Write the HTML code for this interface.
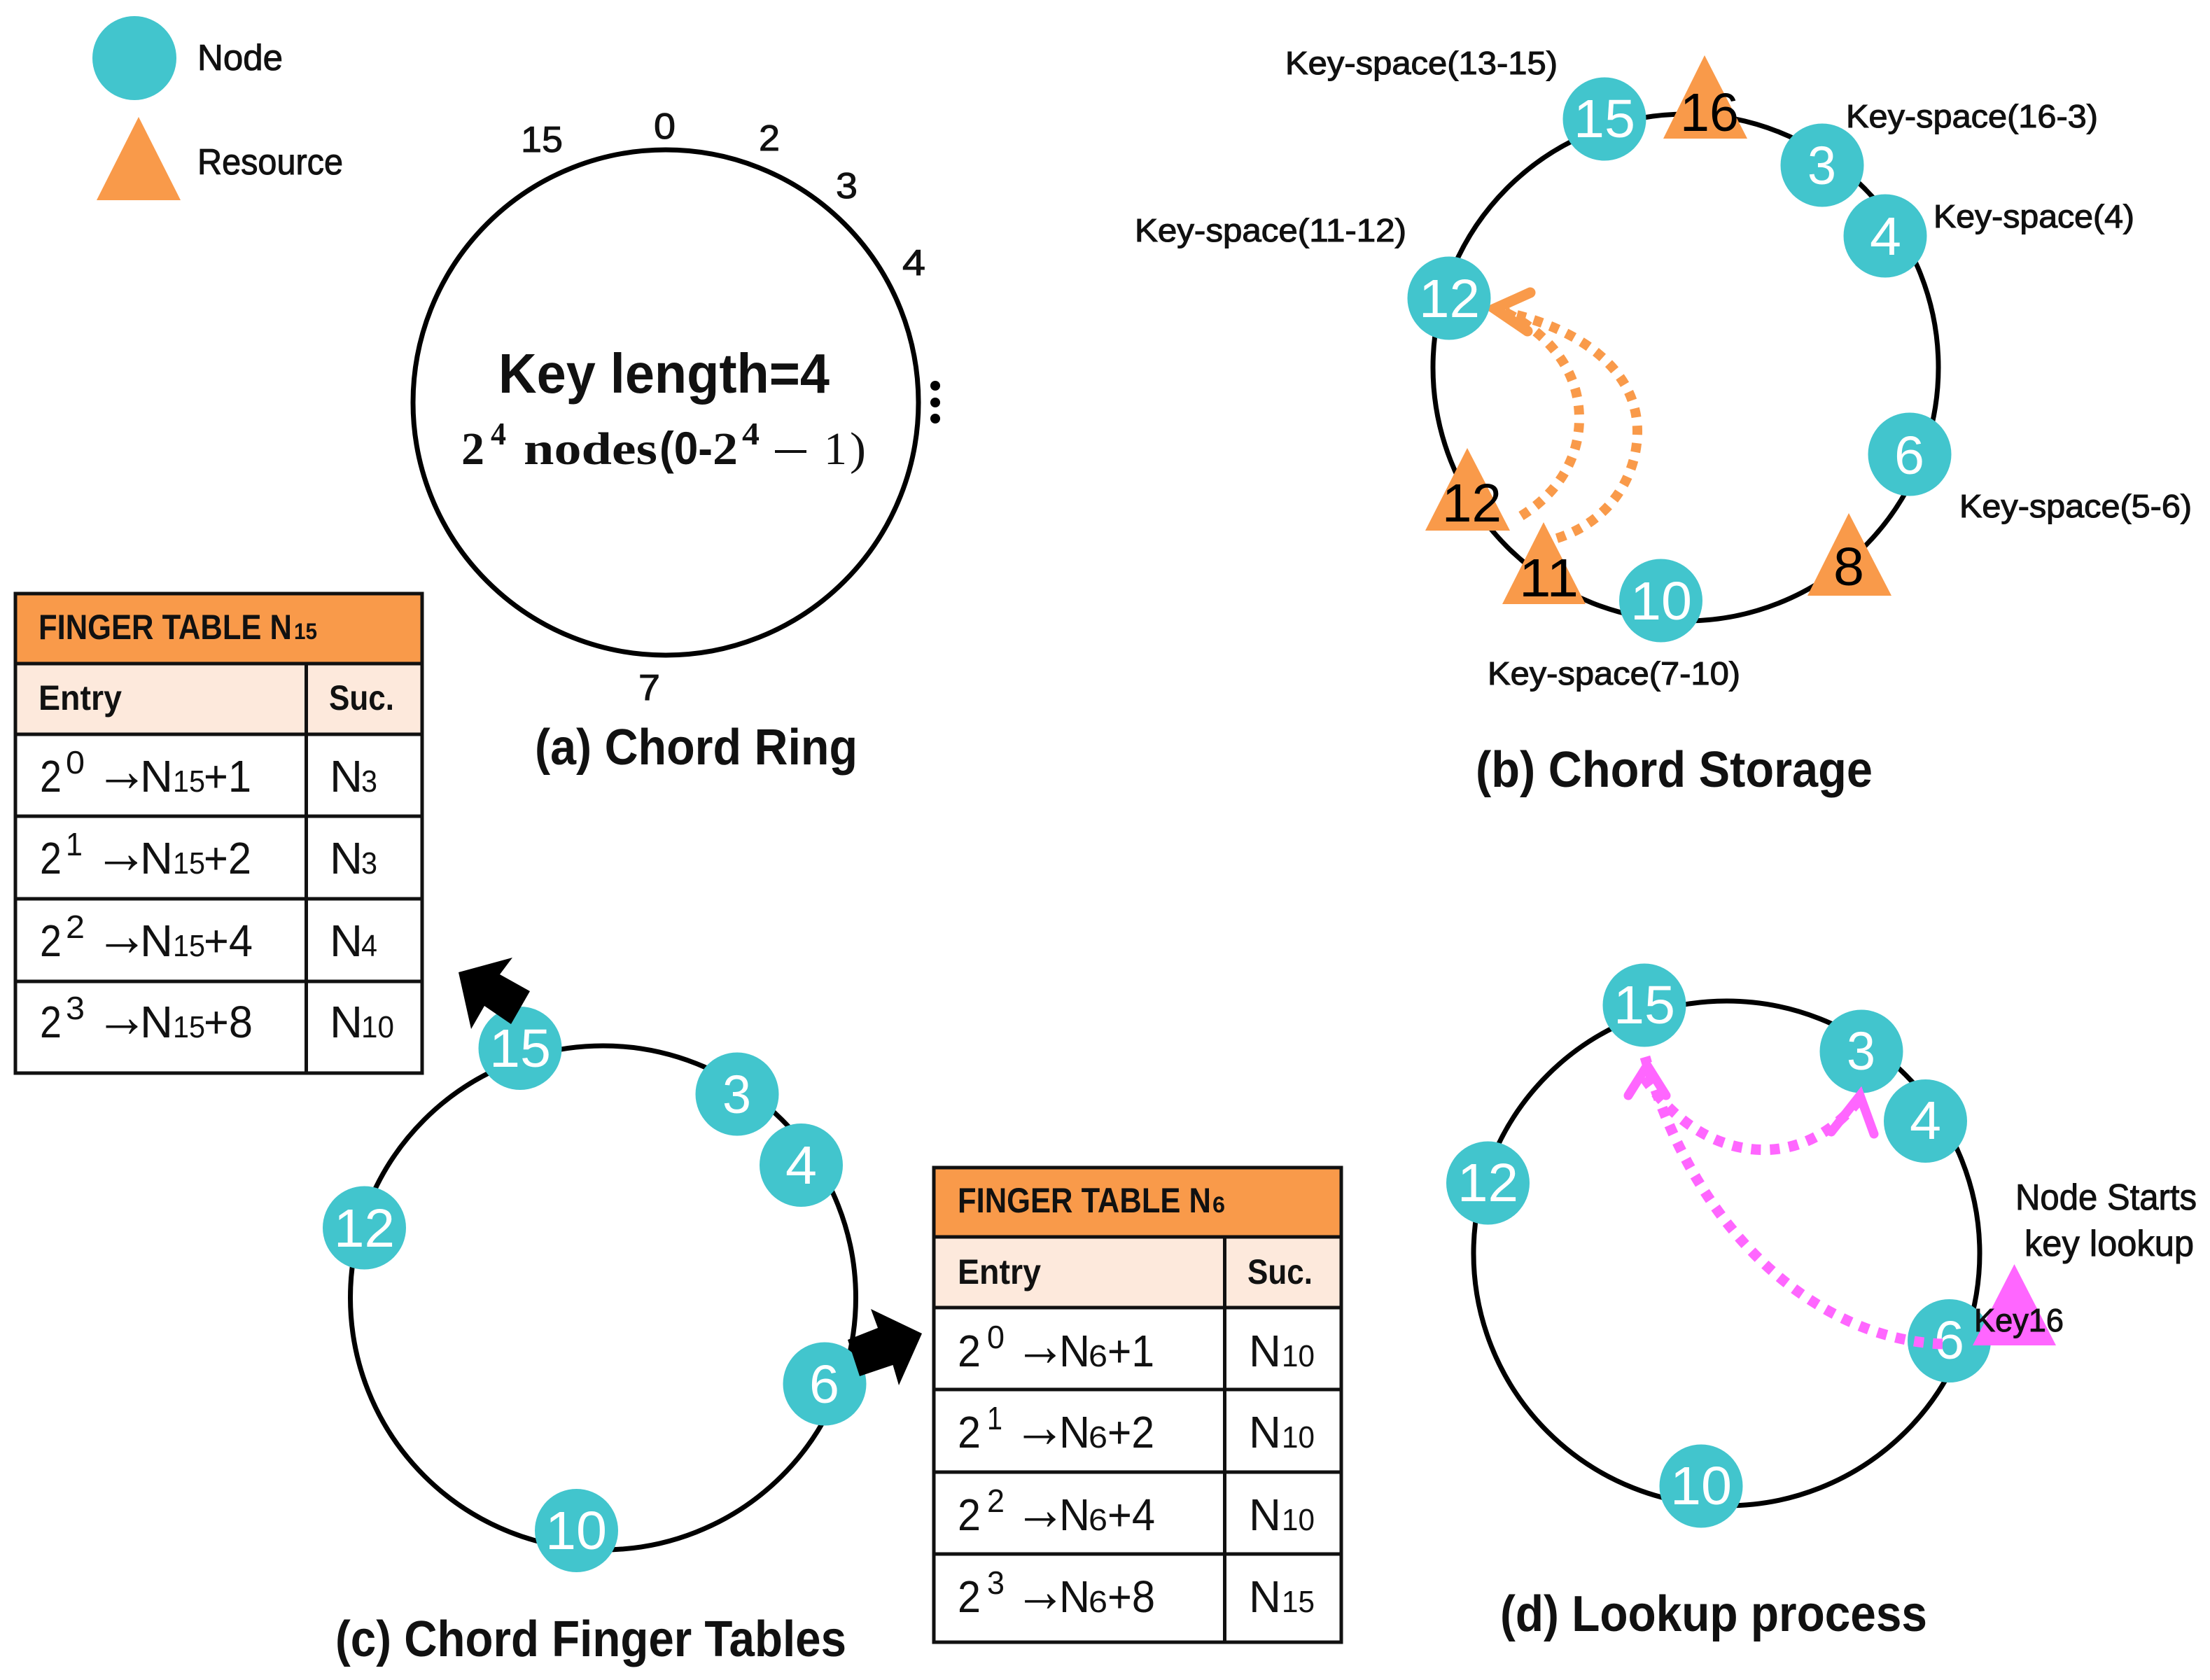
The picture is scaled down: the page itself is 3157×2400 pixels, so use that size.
<!DOCTYPE html>
<html><head><meta charset="utf-8"><title>Chord</title>
<style>
html,body{margin:0;padding:0;background:#fff}
svg{display:block}
text{font-family:"Liberation Sans",sans-serif;fill:#111}
.m{font-size:46px;stroke:#111;stroke-width:1.1px}
.l{font-size:52px;stroke:#111;stroke-width:1px}
.t{font-size:72px;font-weight:bold}
.w{font-size:77px;fill:#fff}
.k{font-size:77px;fill:#000}
.h{font-size:50px;font-weight:bold}
.hs{font-size:32px;font-weight:bold}
.r{font-size:64px}
.s{font-size:44px}
.e{font-size:46px}
.a{font-size:86px}
.ser{font-family:"Liberation Serif",serif;font-size:66px;font-weight:bold}
.sup{font-family:"Liberation Serif",serif;font-size:46px;font-weight:bold}
.ring{fill:none;stroke:#000;stroke-width:7}
.n{fill:#42C5CD}
.o{fill:#F99A4A}
.g{fill:none;stroke:#111;stroke-width:5}
</style></head><body>
<svg xmlns="http://www.w3.org/2000/svg" width="3157" height="2400" viewBox="0 0 3157 2400">
<rect width="3157" height="2400" fill="#fff"/>

<!-- legend -->
<circle class="n" cx="192" cy="83" r="60"/>
<polygon class="o" points="198,167 258,286 138,286"/>
<text class="l" x="282" y="100" textLength="122" lengthAdjust="spacingAndGlyphs">Node</text>
<text class="l" x="282" y="249" textLength="208" lengthAdjust="spacingAndGlyphs">Resource</text>

<!-- (a) -->
<ellipse class="ring" cx="951" cy="575" rx="361" ry="361"/>
<text class="l" x="744" y="217" textLength="60" lengthAdjust="spacingAndGlyphs">15</text>
<text class="l" x="934" y="198" textLength="31" lengthAdjust="spacingAndGlyphs">0</text>
<text class="l" x="1084" y="215" textLength="30" lengthAdjust="spacingAndGlyphs">2</text>
<text class="l" x="1194" y="283" textLength="31" lengthAdjust="spacingAndGlyphs">3</text>
<text class="l" x="1289" y="393" textLength="33" lengthAdjust="spacingAndGlyphs">4</text>
<text class="l" x="912" y="1000" textLength="31" lengthAdjust="spacingAndGlyphs">7</text>
<circle cx="1336" cy="551" r="7"/><circle cx="1336" cy="575" r="7"/><circle cx="1336" cy="598" r="7"/>
<text x="712" y="561" style="font-size:80px;font-weight:bold" textLength="473" lengthAdjust="spacingAndGlyphs">Key length=4</text>
<text class="ser" x="659" y="663" textLength="33" lengthAdjust="spacingAndGlyphs">2</text>
<text class="sup" x="701" y="635" textLength="22" lengthAdjust="spacingAndGlyphs">4</text>
<text class="ser" x="748" y="663" textLength="191" lengthAdjust="spacingAndGlyphs">nodes</text>
<text x="942" y="663" style="font-size:66px;font-weight:bold" textLength="76" lengthAdjust="spacingAndGlyphs">(0-</text>
<text class="ser" x="1018" y="663" textLength="36" lengthAdjust="spacingAndGlyphs">2</text>
<text class="sup" x="1060" y="635" textLength="25" lengthAdjust="spacingAndGlyphs">4</text>
<rect x="1107" y="643" width="45" height="4" fill="#111"/>
<text class="ser" x="1177" y="663" textLength="33" lengthAdjust="spacingAndGlyphs" style="font-weight:normal">1</text>
<text class="ser" x="1214" y="663" textLength="23" lengthAdjust="spacingAndGlyphs" style="font-weight:normal">)</text>
<text class="t" x="764" y="1092" textLength="461" lengthAdjust="spacingAndGlyphs">(a) Chord Ring</text>

<!-- table N15 -->
<rect class="o" x="22" y="848" width="581" height="100"/>
<rect x="22" y="948" width="581" height="101" fill="#FDE9DC"/>
<rect class="g" x="22" y="848" width="581" height="685"/>
<path class="g" d="M22 948H603M22 1049H603M22 1166H603M22 1284H603M22 1402H603M437.500 948V1533"/>
<text class="h" x="55" y="913" textLength="362" lengthAdjust="spacingAndGlyphs">FINGER TABLE N</text>
<text class="hs" x="420" y="913" textLength="33" lengthAdjust="spacingAndGlyphs">15</text>
<text class="h" x="55" y="1014" textLength="119" lengthAdjust="spacingAndGlyphs">Entry</text>
<text class="h" x="470" y="1014" textLength="93" lengthAdjust="spacingAndGlyphs">Suc.</text>

<g>
<text class="r" x="57" y="1131" textLength="31" lengthAdjust="spacingAndGlyphs">2</text><text class="e" x="94" y="1105" textLength="27" lengthAdjust="spacingAndGlyphs">0</text><text class="a" x="136" y="1130" textLength="76" lengthAdjust="spacingAndGlyphs">→</text><text class="r" x="200" y="1131" textLength="47" lengthAdjust="spacingAndGlyphs">N</text><text class="s" x="247" y="1131" textLength="46" lengthAdjust="spacingAndGlyphs">15</text><text class="r" x="291" y="1131" textLength="68" lengthAdjust="spacingAndGlyphs">+1</text><text class="r" x="471" y="1131" textLength="47" lengthAdjust="spacingAndGlyphs">N</text><text class="s" x="516" y="1131" textLength="23" lengthAdjust="spacingAndGlyphs">3</text>

<text class="r" x="57" y="1248" textLength="31" lengthAdjust="spacingAndGlyphs">2</text><text class="e" x="94" y="1222" textLength="24" lengthAdjust="spacingAndGlyphs">1</text><text class="a" x="134" y="1247" textLength="78" lengthAdjust="spacingAndGlyphs">→</text><text class="r" x="200" y="1248" textLength="47" lengthAdjust="spacingAndGlyphs">N</text><text class="s" x="247" y="1248" textLength="46" lengthAdjust="spacingAndGlyphs">15</text><text class="r" x="291" y="1248" textLength="68" lengthAdjust="spacingAndGlyphs">+2</text><text class="r" x="471" y="1248" textLength="47" lengthAdjust="spacingAndGlyphs">N</text><text class="s" x="516" y="1248" textLength="23" lengthAdjust="spacingAndGlyphs">3</text>

<text class="r" x="57" y="1366" textLength="31" lengthAdjust="spacingAndGlyphs">2</text><text class="e" x="94" y="1340" textLength="27" lengthAdjust="spacingAndGlyphs">2</text><text class="a" x="136" y="1365" textLength="76" lengthAdjust="spacingAndGlyphs">→</text><text class="r" x="200" y="1366" textLength="47" lengthAdjust="spacingAndGlyphs">N</text><text class="s" x="247" y="1366" textLength="46" lengthAdjust="spacingAndGlyphs">15</text><text class="r" x="291" y="1366" textLength="70" lengthAdjust="spacingAndGlyphs">+4</text><text class="r" x="471" y="1366" textLength="47" lengthAdjust="spacingAndGlyphs">N</text><text class="s" x="516" y="1366" textLength="23" lengthAdjust="spacingAndGlyphs">4</text>

<text class="r" x="57" y="1482" textLength="31" lengthAdjust="spacingAndGlyphs">2</text><text class="e" x="94" y="1456" textLength="27" lengthAdjust="spacingAndGlyphs">3</text><text class="a" x="136" y="1481" textLength="76" lengthAdjust="spacingAndGlyphs">→</text><text class="r" x="200" y="1482" textLength="47" lengthAdjust="spacingAndGlyphs">N</text><text class="s" x="247" y="1482" textLength="46" lengthAdjust="spacingAndGlyphs">15</text><text class="r" x="291" y="1482" textLength="70" lengthAdjust="spacingAndGlyphs">+8</text><text class="r" x="471" y="1482" textLength="47" lengthAdjust="spacingAndGlyphs">N</text><text class="s" x="516" y="1482" textLength="47" lengthAdjust="spacingAndGlyphs">10</text>
</g>

<!-- (b) -->
<ellipse class="ring" cx="2408" cy="525" rx="361" ry="362"/>
<path d="M2224 769C2300 745 2339 680 2339 616C2339 530 2260 470 2150 446" fill="none" stroke="#F99A4A" stroke-width="14" stroke-dasharray="13 12"/>
<path d="M2173 737C2225 705 2256 655 2256 598C2256 520 2200 470 2150 446" fill="none" stroke="#F99A4A" stroke-width="14" stroke-dasharray="13 12"/>
<path d="M2186 418L2135 441L2182 473" fill="none" stroke="#F99A4A" stroke-width="15" stroke-linecap="round"/>
<polygon class="o" points="2435,79 2496,198 2376,198"/>
<polygon class="o" points="2096,640 2157,758 2036,758"/>
<polygon class="o" points="2205,746 2265,863 2146,863"/>
<polygon class="o" points="2641,733 2702,851 2582,851"/>
<g class="n">
<circle cx="2292" cy="170" r="59.500"/><circle cx="2603" cy="236" r="59.500"/><circle cx="2693" cy="337" r="59.500"/><circle cx="2070" cy="426" r="59.500"/><circle cx="2728" cy="649" r="59.500"/><circle cx="2372.500" cy="858" r="59.500"/>
</g>
<text class="k" x="2400" y="187" textLength="84" lengthAdjust="spacingAndGlyphs">16</text>
<text class="k" x="2060" y="745" textLength="85" lengthAdjust="spacingAndGlyphs">12</text>
<text class="k" x="2170" y="852" textLength="85" lengthAdjust="spacingAndGlyphs">11</text>
<text class="k" x="2619" y="836" textLength="44" lengthAdjust="spacingAndGlyphs">8</text>
<text class="w" x="2248" y="196" textLength="88" lengthAdjust="spacingAndGlyphs">15</text>
<text class="w" x="2582" y="263" textLength="41" lengthAdjust="spacingAndGlyphs">3</text>
<text class="w" x="2671" y="364" textLength="45" lengthAdjust="spacingAndGlyphs">4</text>
<text class="w" x="2027" y="453" textLength="87" lengthAdjust="spacingAndGlyphs">12</text>
<text class="w" x="2706" y="677" textLength="43" lengthAdjust="spacingAndGlyphs">6</text>
<text class="w" x="2329" y="885" textLength="88" lengthAdjust="spacingAndGlyphs">10</text>
<text class="m" x="1836" y="106" textLength="389" lengthAdjust="spacingAndGlyphs">Key-space(13-15)</text>
<text class="m" x="2637" y="182" textLength="360" lengthAdjust="spacingAndGlyphs">Key-space(16-3)</text>
<text class="m" x="2762" y="325" textLength="287" lengthAdjust="spacingAndGlyphs">Key-space(4)</text>
<text class="m" x="1621" y="345" textLength="388" lengthAdjust="spacingAndGlyphs">Key-space(11-12)</text>
<text class="m" x="2799" y="739" textLength="332" lengthAdjust="spacingAndGlyphs">Key-space(5-6)</text>
<text class="m" x="2125" y="978" textLength="361" lengthAdjust="spacingAndGlyphs">Key-space(7-10)</text>
<text class="t" x="2108" y="1124" textLength="567" lengthAdjust="spacingAndGlyphs">(b) Chord Storage</text>

<!-- (c) -->
<ellipse class="ring" cx="861.500" cy="1854" rx="361" ry="360"/>
<g class="n">
<circle cx="743" cy="1497.500" r="59.500"/><circle cx="1053" cy="1563" r="59.500"/><circle cx="1144.500" cy="1664.500" r="59.500"/><circle cx="520.500" cy="1754" r="59.500"/><circle cx="1178" cy="1977" r="59.500"/><circle cx="823.500" cy="2186.500" r="59.500"/>
</g>
<text class="w" x="699" y="1524" textLength="88" lengthAdjust="spacingAndGlyphs">15</text>
<text class="w" x="1032" y="1590" textLength="41" lengthAdjust="spacingAndGlyphs">3</text>
<text class="w" x="1122" y="1691" textLength="45" lengthAdjust="spacingAndGlyphs">4</text>
<text class="w" x="477" y="1781" textLength="87" lengthAdjust="spacingAndGlyphs">12</text>
<text class="w" x="1156" y="2004" textLength="43" lengthAdjust="spacingAndGlyphs">6</text>
<text class="w" x="779" y="2213" textLength="88" lengthAdjust="spacingAndGlyphs">10</text>
<polygon fill="#000" points="655,1389 732,1368 714,1392 757,1416 730,1463 692,1437 673,1470"/>
<polygon fill="#000" points="1317,1905 1244,1870 1254,1897 1211,1914 1228,1966 1275.500,1950 1284,1979"/>
<text class="t" x="479" y="2366" textLength="730" lengthAdjust="spacingAndGlyphs">(c) Chord Finger Tables</text>

<!-- table N6 -->
<rect class="o" x="1334" y="1668" width="582" height="99"/>
<rect x="1334" y="1767" width="582" height="101" fill="#FDE9DC"/>
<rect class="g" x="1334" y="1668" width="582" height="678"/>
<path class="g" d="M1334 1767H1916M1334 1868H1916M1334 1985H1916M1334 2103H1916M1334 2220H1916M1749.500 1767V2346"/>
<text class="h" x="1368" y="1732" textLength="362" lengthAdjust="spacingAndGlyphs">FINGER TABLE N</text>
<text class="hs" x="1732" y="1732" textLength="18" lengthAdjust="spacingAndGlyphs">6</text>
<text class="h" x="1368" y="1834" textLength="119" lengthAdjust="spacingAndGlyphs">Entry</text>
<text class="h" x="1782" y="1834" textLength="93" lengthAdjust="spacingAndGlyphs">Suc.</text>
<g>
<text class="r" x="1368" y="1952" textLength="33" lengthAdjust="spacingAndGlyphs">2</text><text class="e" x="1410" y="1926" textLength="25" lengthAdjust="spacingAndGlyphs">0</text><text class="a" x="1449" y="1951" textLength="74" lengthAdjust="spacingAndGlyphs">→</text><text class="r" x="1513" y="1952" textLength="44" lengthAdjust="spacingAndGlyphs">N</text><text class="s" x="1555" y="1952" textLength="27" lengthAdjust="spacingAndGlyphs">6</text><text class="r" x="1582" y="1952" textLength="67" lengthAdjust="spacingAndGlyphs">+1</text><text class="r" x="1784" y="1952" textLength="46" lengthAdjust="spacingAndGlyphs">N</text><text class="s" x="1831" y="1952" textLength="47" lengthAdjust="spacingAndGlyphs">10</text>

<text class="r" x="1368" y="2068" textLength="33" lengthAdjust="spacingAndGlyphs">2</text><text class="e" x="1410" y="2042" textLength="22" lengthAdjust="spacingAndGlyphs">1</text><text class="a" x="1447" y="2067" textLength="76" lengthAdjust="spacingAndGlyphs">→</text><text class="r" x="1513" y="2068" textLength="44" lengthAdjust="spacingAndGlyphs">N</text><text class="s" x="1555" y="2068" textLength="27" lengthAdjust="spacingAndGlyphs">6</text><text class="r" x="1582" y="2068" textLength="67" lengthAdjust="spacingAndGlyphs">+2</text><text class="r" x="1784" y="2068" textLength="46" lengthAdjust="spacingAndGlyphs">N</text><text class="s" x="1831" y="2068" textLength="47" lengthAdjust="spacingAndGlyphs">10</text>

<text class="r" x="1368" y="2186" textLength="33" lengthAdjust="spacingAndGlyphs">2</text><text class="e" x="1410" y="2160" textLength="25" lengthAdjust="spacingAndGlyphs">2</text><text class="a" x="1449" y="2185" textLength="74" lengthAdjust="spacingAndGlyphs">→</text><text class="r" x="1513" y="2186" textLength="44" lengthAdjust="spacingAndGlyphs">N</text><text class="s" x="1555" y="2186" textLength="27" lengthAdjust="spacingAndGlyphs">6</text><text class="r" x="1582" y="2186" textLength="68" lengthAdjust="spacingAndGlyphs">+4</text><text class="r" x="1784" y="2186" textLength="46" lengthAdjust="spacingAndGlyphs">N</text><text class="s" x="1831" y="2186" textLength="47" lengthAdjust="spacingAndGlyphs">10</text>

<text class="r" x="1368" y="2303" textLength="33" lengthAdjust="spacingAndGlyphs">2</text><text class="e" x="1410" y="2277" textLength="25" lengthAdjust="spacingAndGlyphs">3</text><text class="a" x="1449" y="2302" textLength="74" lengthAdjust="spacingAndGlyphs">→</text><text class="r" x="1513" y="2303" textLength="44" lengthAdjust="spacingAndGlyphs">N</text><text class="s" x="1555" y="2303" textLength="27" lengthAdjust="spacingAndGlyphs">6</text><text class="r" x="1582" y="2303" textLength="68" lengthAdjust="spacingAndGlyphs">+8</text><text class="r" x="1784" y="2303" textLength="46" lengthAdjust="spacingAndGlyphs">N</text><text class="s" x="1831" y="2303" textLength="47" lengthAdjust="spacingAndGlyphs">15</text>
</g>

<!-- (d) -->
<ellipse class="ring" cx="2466.500" cy="1790.500" rx="361.500" ry="360.500"/>
<g class="n">
<circle cx="2349" cy="1436" r="59.500"/><circle cx="2659" cy="1502" r="59.500"/><circle cx="2750.500" cy="1601.500" r="59.500"/><circle cx="2125.500" cy="1690" r="59.500"/><circle cx="2784.500" cy="1915.500" r="59.500"/><circle cx="2430" cy="2123" r="59.500"/>
</g>
<text class="w" x="2305" y="1462" textLength="88" lengthAdjust="spacingAndGlyphs">15</text>
<text class="w" x="2638" y="1528" textLength="41" lengthAdjust="spacingAndGlyphs">3</text>
<text class="w" x="2728" y="1627" textLength="45" lengthAdjust="spacingAndGlyphs">4</text>
<text class="w" x="2082" y="1716" textLength="87" lengthAdjust="spacingAndGlyphs">12</text>
<text class="w" x="2763" y="1941" textLength="43" lengthAdjust="spacingAndGlyphs">6</text>
<text class="w" x="2386" y="2149" textLength="88" lengthAdjust="spacingAndGlyphs">10</text>
<polygon fill="#FF66FF" points="2877.500,1806 2937,1922 2818,1922"/>
<path d="M2775 1920C2620 1915 2430 1790 2350 1510" fill="none" stroke="#FF66FF" stroke-width="15" stroke-dasharray="14 13"/>
<path d="M2349 1540C2430 1660 2570 1680 2655 1572" fill="none" stroke="#FF66FF" stroke-width="15" stroke-dasharray="14 13"/>
<path d="M2326 1565L2353 1522L2380 1565" fill="none" stroke="#FF66FF" stroke-width="13" stroke-linecap="round"/>
<path d="M2616 1617L2657 1565L2677 1620" fill="none" stroke="#FF66FF" stroke-width="13" stroke-linecap="round"/>
<text x="2820" y="1902" style="font-size:46px;stroke:#111;stroke-width:1px" textLength="128" lengthAdjust="spacingAndGlyphs">Key16</text>
<text class="l" x="2879" y="1728" textLength="259" lengthAdjust="spacingAndGlyphs">Node Starts</text>
<text class="l" x="2892" y="1794" textLength="242" lengthAdjust="spacingAndGlyphs">key lookup</text>
<text class="t" x="2143" y="2330" textLength="610" lengthAdjust="spacingAndGlyphs">(d) Lookup process</text>
</svg>
</body></html>
